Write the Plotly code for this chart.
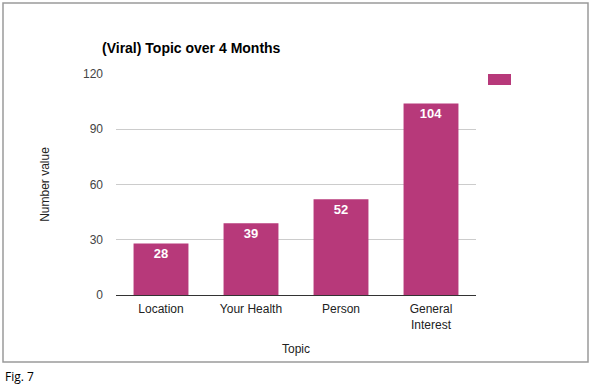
import plotly.graph_objects as go

categories = ["Location", "Your Health", "Person", "General<br>Interest"]
values = [28, 39, 52, 104]
y_ticks = [0, 30, 60, 90, 120]

BAR = "#b7397a"
FONT = "Liberation Sans, Arial, sans-serif"

fig = go.Figure()
fig.add_trace(go.Bar(
    x=categories, y=values, marker=dict(color=BAR, line=dict(width=0)),
    text=[str(v) for v in values], textposition="inside", insidetextanchor="end",
    textfont=dict(color="white", size=13, family=FONT, weight="bold"),
    textangle=0, showlegend=False,
))

fig.update_layout(
    width=596, height=386,
    margin=dict(l=116, r=120, t=74, b=91),
    paper_bgcolor="white", plot_bgcolor="white",
    bargap=0.39,
    font=dict(family=FONT, size=12, color="#444444"),
    title=dict(text="<b>(Viral) Topic over 4 Months</b>", x=102/596, xanchor="left",
               y=1-48/386, yanchor="middle",
               font=dict(size=14, color="#000000", family=FONT)),
    xaxis=dict(title=dict(text="Topic", font=dict(size=12, color="#222222"), standoff=14),
               tickfont=dict(size=12, color="#222222"), showline=False, ticks="",
               ticklabelstandoff=5),
    yaxis=dict(title=dict(text="Number value", font=dict(size=12, color="#222222"), standoff=30),
               range=[0, 120], tickvals=y_ticks, tickfont=dict(size=12, color="#444444"),
               gridcolor="#cccccc", gridwidth=1, zeroline=True, zerolinecolor="#333333",
               zerolinewidth=1, ticks="", ticklabelstandoff=12),
    shapes=[
        dict(type="rect", xref="paper", yref="paper", x0=-113/360, x1=472/360,
             y0=(295-362)/221, y1=(295-3)/221, line=dict(color="#9a9a9a", width=1.5),
             fillcolor="rgba(0,0,0,0)", layer="below"),
        dict(type="rect", xref="paper", yref="paper", x0=(488-116)/360, x1=(511-116)/360,
             y0=(295-85)/221, y1=(295-74)/221, line=dict(width=0), fillcolor=BAR),
    ],
    annotations=[
        dict(text="Fig. 7", xref="paper", yref="paper", x=-113/360, y=(295-376)/221,
             xanchor="left", yanchor="middle", showarrow=False,
             font=dict(size=12, color="#000000", family="Open Sans, sans-serif")),
    ],
)

fig.write_html("out.html", config={"displayModeBar": False},
               post_script="document.body.style.margin='0';document.body.style.overflow='hidden';")
